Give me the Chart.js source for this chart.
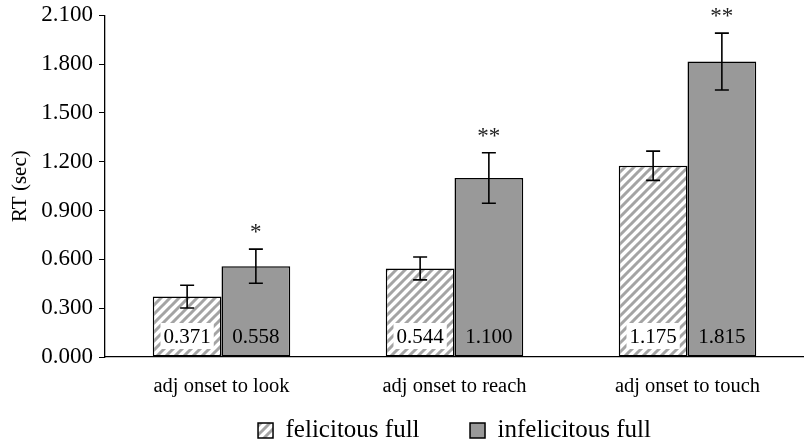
<!DOCTYPE html>
<html>
<head>
<meta charset="utf-8">
<script src="https://cdn.jsdelivr.net/npm/chart.js@4"></script>
<style>
  html, body { margin: 0; padding: 0; background: #fff; }
  #wrap { width: 804px; height: 446px; }
</style>
</head>
<body>
<div id="wrap"><canvas id="rt_chart" width="804" height="446"></canvas></div>
<script>
const categories = ["adj onset to look", "adj onset to reach", "adj onset to touch"]
const felicitous = [0.371, 0.544, 1.175]
const infelicitous = [0.558, 1.100, 1.815]
const felicitous_err = [0.07, 0.07, 0.09]
const infelicitous_err = [0.105, 0.155, 0.175]
const stars = ["*", "**", "**"]

const serif = "'Liberation Serif', 'Times New Roman', serif"
const legend_pad = 13

// diagonal hatch for the felicitous bars
function makeHatch() {
    let n = 9
    let c = document.createElement("canvas")
    c.width = n
    c.height = n
    let g = c.getContext("2d")
    g.fillStyle = "#fff"
    g.fillRect(0, 0, n, n)
    g.strokeStyle = "#a4a4a4"
    g.lineWidth = 3.0
    g.beginPath()
    for (let k = -1; k <= 1; k++) {
        g.moveTo(k * n - 1, n + 1)
        g.lineTo(k * n + n + 1, -1)
    }
    g.stroke()
    return g.createPattern(c, "repeat")
}
const hatch = makeHatch()

// error bars, value labels and significance stars
const extrasPlugin = {
    id: "extras",
    afterDatasetsDraw(chart) {
        let ctx = chart.ctx
        let y = chart.scales.y
        let errs = [felicitous_err, infelicitous_err]
        ctx.save()
        chart.data.datasets.forEach((ds, di) => {
            let meta = chart.getDatasetMeta(di)
            meta.data.forEach((bar, i) => {
                let v = ds.data[i]
                let top = y.getPixelForValue(v + errs[di][i])
                let bot = y.getPixelForValue(v - errs[di][i])
                ctx.strokeStyle = "#000"
                ctx.lineWidth = 1.6
                ctx.beginPath()
                ctx.moveTo(bar.x, top); ctx.lineTo(bar.x, bot)
                ctx.moveTo(bar.x - 7, top); ctx.lineTo(bar.x + 7, top)
                ctx.moveTo(bar.x - 7, bot); ctx.lineTo(bar.x + 7, bot)
                ctx.stroke()

                // value label near the bottom of the bar
                ctx.font = "21px " + serif
                ctx.textAlign = "center"
                ctx.textBaseline = "middle"
                let label = v.toFixed(3)
                let ly = y.getPixelForValue(0) - 21
                if (di == 0) {
                    let w = ctx.measureText(label).width
                    ctx.fillStyle = "#fff"
                    ctx.fillRect(bar.x - w / 2 - 3, ly - 13, w + 6, 26)
                }
                ctx.fillStyle = "#000"
                ctx.fillText(label, bar.x, ly + 1)

                if (di == 1) {
                    ctx.font = "23px " + serif
                    ctx.fillStyle = "#222"
                    ctx.textBaseline = "alphabetic"
                    ctx.fillText(stars[i], bar.x, top - 10)
                }
            })
        })
        ctx.restore()
    }
}

const config = {
    type: "bar",
    data: {
        labels: categories,
        datasets: [{
            label: "felicitous full",
            data: felicitous,
            backgroundColor: hatch,
            borderColor: "#000",
            borderWidth: 1.5,
            borderSkipped: false,
            categoryPercentage: 0.59,
            barPercentage: 1.0
        }, {
            label: "infelicitous full",
            data: infelicitous,
            backgroundColor: "#999999",
            borderColor: "#000",
            borderWidth: 1.5,
            borderSkipped: false,
            categoryPercentage: 0.59,
            barPercentage: 1.0
        }]
    },
    options: {
        responsive: false,
        animation: false,
        layout: { padding: { top: 0, left: 6, right: 0, bottom: -7 } },
        plugins: {
            tooltip: { enabled: false },
            legend: {
                position: "bottom",
                fullSize: false,
                labels: {
                    color: "#000",
                    font: { family: serif, size: 25 },
                    boxWidth: 15,
                    boxHeight: 15,
                    padding: legend_pad,
                    generateLabels(chart) {
                        let items = Chart.defaults.plugins.legend.labels.generateLabels(chart)
                        // widen the gap between the two entries
                        items[0].text += "      "
                        return items
                    }
                }
            }
        },
        scales: {
            x: {
                grid: { display: false },
                border: { color: "#000", width: 1.3 },
                afterFit(s) { s.height = 61 - legend_pad },
                ticks: { color: "#000", font: { family: serif, size: 20.5 }, padding: 9 }
            },
            y: {
                min: 0,
                max: 2.1,
                afterFit(s) { s.width = 99 },
                ticks: {
                    stepSize: 0.3,
                    color: "#000",
                    font: { family: serif, size: 23, lineHeight: 0.8 },
                    padding: 6,
                    callback: v => v.toFixed(3)
                },
                grid: { drawOnChartArea: false, drawTicks: true, tickLength: 6, color: "#000" },
                border: { color: "#000", width: 1.3 },
                title: { display: true, text: "RT (sec)", color: "#000", font: { family: serif, size: 21 }, padding: 2 }
            }
        }
    },
    plugins: [extrasPlugin]
}

const myChart = new Chart(document.getElementById("rt_chart"), config)
</script>
</body>
</html>
